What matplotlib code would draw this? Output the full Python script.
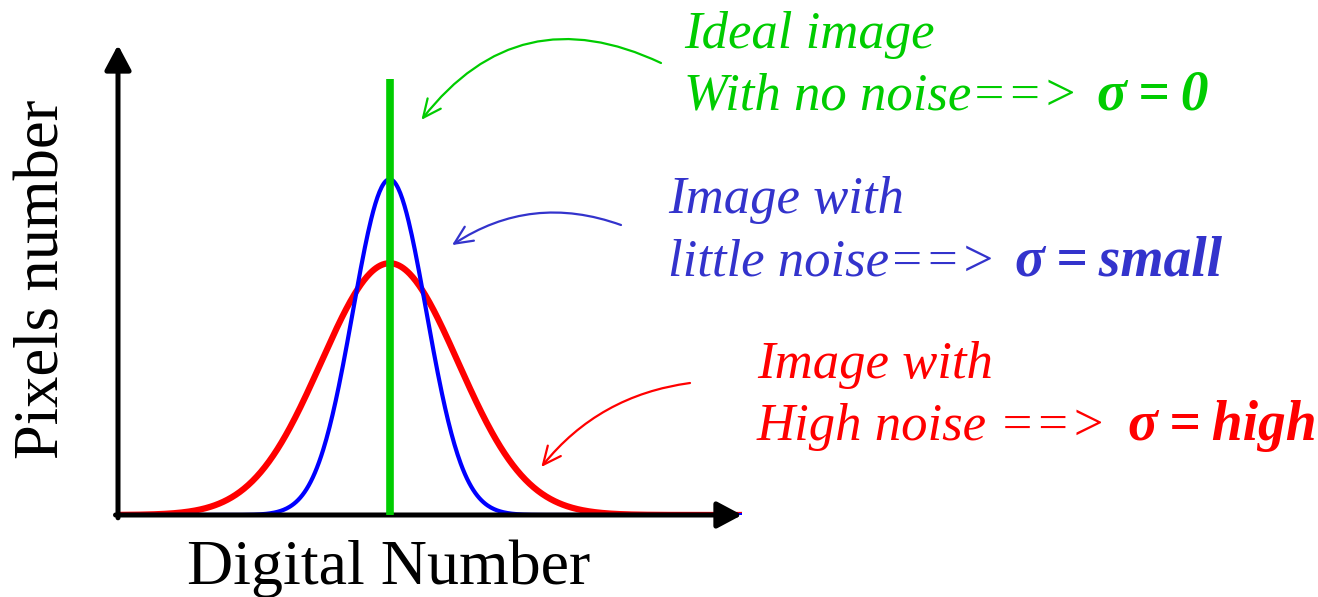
import numpy as np
import matplotlib.pyplot as plt
from matplotlib.patches import FancyArrowPatch

plt.rcParams['font.family'] = ['Liberation Serif', 'DejaVu Serif']

# digital number axis (0..255) and gaussian parameters
dn = np.linspace(0, 255, 600)
center = 111
sigma_small, peak_small = 15, 1.0
sigma_high, peak_high = 28, 0.75
ideal_height = 1.3

blue_curve = peak_small * np.exp(-(dn - center) ** 2 / (2 * sigma_small ** 2))
red_curve = peak_high * np.exp(-(dn - center) ** 2 / (2 * sigma_high ** 2))

green = '#00cc00'
blue_txt = '#3333cc'
red = '#ff0000'

W, H = 1318, 597
fig = plt.figure(figsize=(W / 100, H / 100), dpi=100)

# plot area: left 118px, bottom 515px, 624px wide, 470px tall
ax = fig.add_axes([118 / W, (H - 515) / H, 624 / W, 470 / H])
ax.set_xlim(0, 255)
ax.set_ylim(0, 1.4)
ax.axis('off')

ax.plot(dn, red_curve, color=red, lw=4.5, zorder=2)
ax.plot(dn, blue_curve, color='#0000ff', lw=3, zorder=3)
ax.plot([center, center], [0, ideal_height], color=green, lw=5.5, zorder=4, solid_capstyle='butt')

# axes with arrow heads
arrow_kw = dict(arrowstyle='-|>,head_length=0.75,head_width=0.4', color='black', lw=3.6,
                mutation_scale=20, shrinkA=0, shrinkB=0)
ax.annotate('', xy=(0, 1.0), xytext=(0, -0.006), xycoords='axes fraction',
            arrowprops=arrow_kw, annotation_clip=False)
ax.annotate('', xy=(1.0, 0), xytext=(-0.004, 0), xycoords='axes fraction',
            arrowprops=arrow_kw, annotation_clip=False)

# overlay in pixel units for text
ov = fig.add_axes([0, 0, 1, 1], facecolor='none')
ov.set_xlim(0, W)
ov.set_ylim(H, 0)
ov.axis('off')

ov.text(44, 279, 'Pixels number', rotation=90, fontsize=45, ha='center', va='center')
ov.text(389, 584, 'Digital Number', fontsize=46, ha='center', va='baseline')

fs = 38
it = dict(fontsize=fs, style='italic', va='baseline')
bd = dict(fontsize=40, style='italic', weight='bold', va='baseline')

ov.text(684, 48, 'Ideal image', color=green, **it)
ov.text(684, 110, 'With no noise==> ', color=green, **it)
ov.text(1097, 110, 'σ\u2009=\u20090', color=green, **bd)

ov.text(668, 213, 'Image with', color=blue_txt, **it)
ov.text(668, 275, 'little noise==> ', color=blue_txt, **it)
ov.text(1015, 275, 'σ\u2009=\u2009small', color=blue_txt, **bd)

ov.text(757, 378, 'Image with', color=red, **it)
ov.text(757, 440, 'High noise ==> ', color=red, **it)
ov.text(1128, 440, 'σ\u2009=\u2009high', color=red, **bd)

# curved pointer arrows
def pointer(start, end_data, color, rad):
    end = ov.transData.inverted().transform(ax.transData.transform(end_data))
    p = FancyArrowPatch(start, tuple(end), transform=ov.transData,
                        connectionstyle=f'arc3,rad={rad}',
                        arrowstyle='->,head_length=13,head_width=6',
                        color=color, lw=1.6, shrinkA=0, shrinkB=0)
    ov.add_patch(p)

pointer((661, 63), (124, 1.177), green, 0.4)
pointer((621, 225), (136.5, 0.804), blue_txt, 0.25)
pointer((690, 383), (173, 0.143), red, 0.2)

fig.savefig('out.png', dpi=100)
